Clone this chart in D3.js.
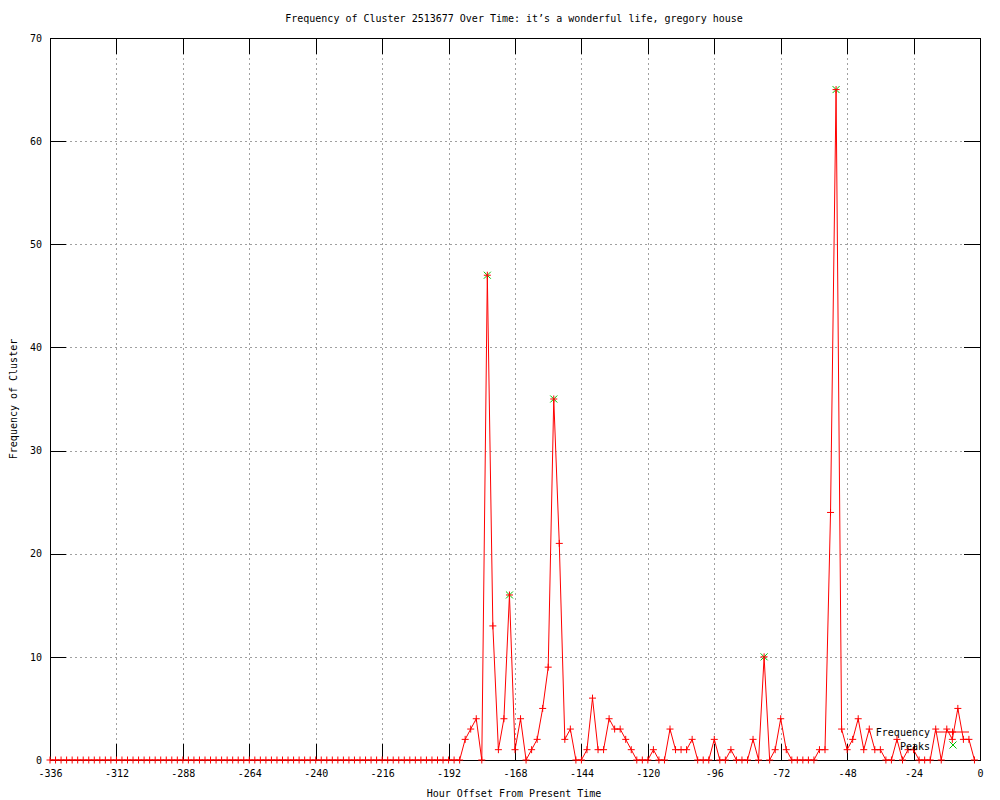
<!DOCTYPE html>
<html>
<head>
<meta charset="utf-8">
<script src="https://cdn.jsdelivr.net/npm/d3@7"></script>
<style>
  body { margin: 0; background: #fff; }
  text { font-family: "DejaVu Sans Mono", monospace; font-size: 10px; fill: #000; }
</style>
</head>
<body>
<div class="plot"></div>
<script>
// frequency every 2 hours, from -336 to -2
var freqValues = [
  0,0,0,0,0,0,0,0,0,0,
  0,0,0,0,0,0,0,0,0,0,
  0,0,0,0,0,0,0,0,0,0,
  0,0,0,0,0,0,0,0,0,0,
  0,0,0,0,0,0,0,0,0,0,
  0,0,0,0,0,0,0,0,0,0,
  0,0,0,0,0,0,0,0,0,0,
  0,0,0,0,0,
  2,3,4,0,47,13,1,4,16,1,
  4,0,1,2,5,9,35,21,2,3,
  0,0,1,6,1,1,4,3,3,2,
  1,0,0,0,1,0,0,3,1,1,
  1,2,0,0,0,2,0,0,1,0,
  0,0,2,0,10,0,1,4,1,0,
  0,0,0,0,1,1,24,65,3,1,
  2,4,1,3,1,1,0,0,2,0,
  1,1,0,0,0,3,0,3,2,5,
  2,2,0
];
var hours = d3.range(-336, 0, 2);

var peakHours = [-178, -170, -154, -78, -52];
var peakValues = [47, 16, 35, 10, 65];

var xTicks = d3.range(-336, 1, 24);
var yTicks = d3.range(0, 71, 10);

var titleText = "Frequency of Cluster 2513677 Over Time: it\u2019s a wonderful life, gregory house";
var xLabel = "Hour Offset From Present Time";
var yLabel = "Frequency of Cluster";

var freqData = hours.map(function(h, i) { return {h: h, v: freqValues[i]}; });
var peakData = peakHours.map(function(h, i) { return {h: h, v: peakValues[i]}; });

var plotL = 50, plotR = 980, plotT = 38, plotB = 760;
var tickLen = 16;

var x = d3.scaleLinear().domain([-336, 0]).range([plotL, plotR]);
var y = d3.scaleLinear().domain([0, 70]).range([plotB, plotT]);

var svg = d3.select(".plot").append("svg")
  .attr("width", 1000)
  .attr("height", 800);

// grid
var grid = svg.append("g")
  .attr("stroke", "#a0a0a0")
  .attr("stroke-dasharray", "2,3")
  .attr("shape-rendering", "crispEdges");
grid.selectAll(".gx")
  .data(xTicks.slice(1, -1))
  .enter().append("line")
  .attr("x1", function(d) { return Math.round(x(d)) + 0.5; })
  .attr("x2", function(d) { return Math.round(x(d)) + 0.5; })
  .attr("y1", plotT).attr("y2", plotB);
grid.selectAll(".gy")
  .data(yTicks.slice(1, -1))
  .enter().append("line")
  .attr("x1", plotL).attr("x2", plotR)
  .attr("y1", function(d) { return Math.round(y(d)) + 0.5; })
  .attr("y2", function(d) { return Math.round(y(d)) + 0.5; });

// axes with inward ticks (mirrored)
var xAxisB = d3.axisBottom(x).tickValues(xTicks).tickSize(-tickLen).tickPadding(10).tickFormat(d3.format("d"));
var xAxisT = d3.axisTop(x).tickValues(xTicks).tickSize(-tickLen).tickFormat("");
var yAxisL = d3.axisLeft(y).tickValues(yTicks).tickSize(-tickLen).tickPadding(8);
var yAxisR = d3.axisRight(y).tickValues(yTicks).tickSize(-tickLen).tickFormat("");

function styleAxis(g) {
  g.select(".domain").remove();
  g.selectAll(".tick line").attr("stroke", "#000").attr("shape-rendering", "crispEdges");
  g.selectAll(".tick text").attr("font-family", "DejaVu Sans Mono").attr("font-size", 10).attr("fill", "#000");
}

svg.append("g").attr("transform", "translate(0," + plotB + ")").call(xAxisB).call(styleAxis)
  .selectAll(".tick text").text(function(d) { return String(d).replace("\u2212", "-"); });
svg.append("g").attr("transform", "translate(0," + plotT + ")").call(xAxisT).call(styleAxis);
svg.append("g").attr("transform", "translate(" + plotL + ",0)").call(yAxisL).call(styleAxis);
svg.append("g").attr("transform", "translate(" + plotR + ",0)").call(yAxisR).call(styleAxis);

// frame
svg.append("rect")
  .attr("x", plotL + 0.5).attr("y", plotT + 0.5)
  .attr("width", plotR - plotL).attr("height", plotB - plotT)
  .attr("fill", "none").attr("stroke", "#000")
  .attr("shape-rendering", "crispEdges");

// line
var line = d3.line()
  .x(function(d) { return x(d.h); })
  .y(function(d) { return y(d.v); });

svg.append("path")
  .datum(freqData)
  .attr("d", line)
  .attr("fill", "none")
  .attr("stroke", "#ff0000")
  .attr("stroke-width", 1);

// peaks (green x)
var s = 3.5;
svg.append("g").selectAll("path")
  .data(peakData)
  .enter().append("path")
  .attr("d", function(d) {
    var cx = x(d.h), cy = y(d.v);
    return "M" + (cx - s) + "," + (cy - s) + "L" + (cx + s) + "," + (cy + s) +
           "M" + (cx - s) + "," + (cy + s) + "L" + (cx + s) + "," + (cy - s);
  })
  .attr("stroke", "#00c000")
  .attr("fill", "none");

// frequency points (red +)
svg.append("g").selectAll("path")
  .data(freqData)
  .enter().append("path")
  .attr("d", function(d) {
    var cx = x(d.h), cy = y(d.v);
    return "M" + (cx - s) + "," + cy + "L" + (cx + s) + "," + cy +
           "M" + cx + "," + (cy - s) + "L" + cx + "," + (cy + s);
  })
  .attr("stroke", "#ff0000")
  .attr("fill", "none");

// legend
var legend = svg.append("g");
legend.append("text").attr("x", 930).attr("y", 736).attr("text-anchor", "end").text("Frequency");
legend.append("text").attr("x", 930).attr("y", 750).attr("text-anchor", "end").text("Peaks");
legend.append("line")
  .attr("x1", 936).attr("x2", 969).attr("y1", 732).attr("y2", 732)
  .attr("stroke", "#ff0000");
legend.append("path")
  .attr("d", "M" + (952.5 - s) + ",732L" + (952.5 + s) + ",732M952.5," + (732 - s) + "L952.5," + (732 + s))
  .attr("stroke", "#ff0000");
legend.append("path")
  .attr("d", "M" + (953 - s) + "," + (745 - s) + "L" + (953 + s) + "," + (745 + s) +
             "M" + (953 - s) + "," + (745 + s) + "L" + (953 + s) + "," + (745 - s))
  .attr("stroke", "#00c000");

// titles
svg.append("text").attr("x", 514).attr("y", 22).attr("text-anchor", "middle").text(titleText);
svg.append("text").attr("x", 514).attr("y", 797).attr("text-anchor", "middle").text(xLabel);
svg.append("text")
  .attr("transform", "translate(17,399) rotate(-90)")
  .attr("text-anchor", "middle")
  .text(yLabel);
</script>
</body>
</html>
